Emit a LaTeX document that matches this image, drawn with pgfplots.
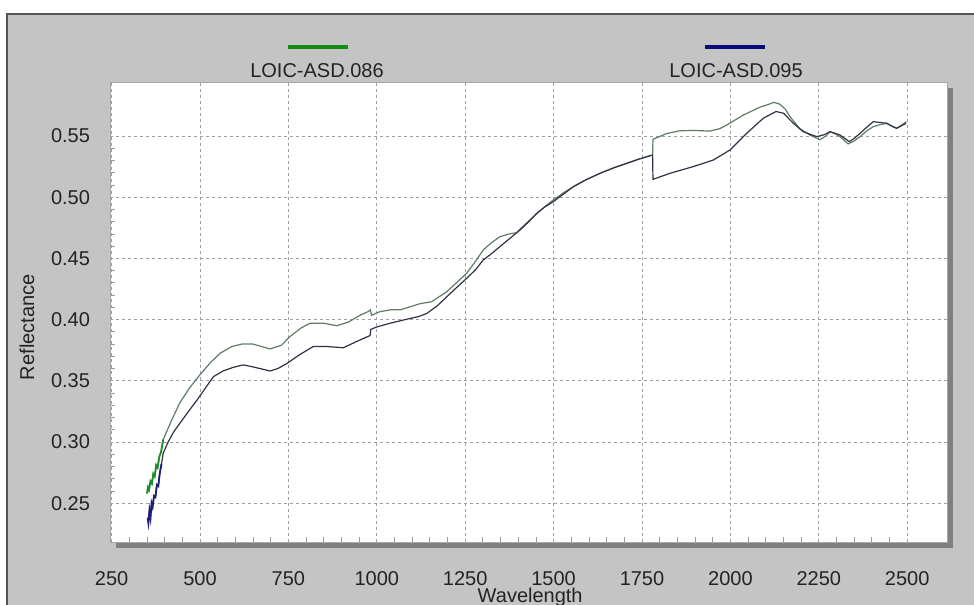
\documentclass[border=0pt]{standalone}
\usepackage{fontspec}
\setmainfont{Liberation Sans}
\usepackage{pgfplots}
\pgfplotsset{compat=1.18}
\definecolor{bggray}{RGB}{196,196,196}
\definecolor{framegray}{RGB}{85,85,85}
\definecolor{shadowgray}{RGB}{128,128,128}
\definecolor{legendgreen}{RGB}{20,140,20}
\definecolor{legendblue}{RGB}{10,10,120}
\definecolor{lineA}{RGB}{95,125,100}
\definecolor{lineB}{RGB}{50,50,70}
\definecolor{vividA}{RGB}{30,140,40}
\definecolor{vividB}{RGB}{30,30,120}
\definecolor{txt}{RGB}{35,35,35}
\begin{document}
\begin{tikzpicture}[x=1bp,y=1bp]
\path[use as bounding box] (0,0) rectangle (487,-302);
\fill[white] (0,0) rectangle (487,-302);
\fill[bggray] (3.5,-7) rectangle (492,-306);
\draw[framegray, line width=0.8bp] (3.5,-306) -- (3.5,-7) -- (492,-7);
\fill[shadowgray] (58,-44) rectangle (476.5,-274);
\draw[legendgreen, line width=2bp] (144,-23.5) -- (174,-23.5);
\node[txt, font=\fontsize{10bp}{12bp}\selectfont] at (158.5,-35.5) {LOIC-ASD.086};
\draw[legendblue, line width=2bp] (352.5,-23.5) -- (382.5,-23.5);
\node[txt, font=\fontsize{10bp}{12bp}\selectfont] at (368,-35.5) {LOIC-ASD.095};
\begin{axis}[
  at={(55bp,-271bp)}, anchor=south west,
  scale only axis, width=418.5bp, height=230bp,
  xmin=245.5, xmax=2612.6, ymin=0.2183, ymax=0.5941,
  xtick={250,500,...,2500},
  ytick={0.25,0.30,...,0.55},
  minor x tick num=4, minor y tick num=4,
  tick pos=left, tick align=inside,
  major tick length=0bp, minor tick length=2.5bp,
  minor tick style={gray!80, line width=0.4bp},
  grid=major,
  major grid style={gray!75, dash pattern=on 1.5bp off 1.5bp, line width=0.45bp},
  axis background/.style={fill=white},
  axis line style={gray!70, line width=0.5bp},
  every tick label/.append style={txt, font=\fontsize{10bp}{12bp}\selectfont},
  xticklabel style={yshift=-11bp, /pgf/number format/1000 sep={}},
  yticklabel style={xshift=-6.5bp, /pgf/number format/.cd, fixed, fixed zerofill, precision=2},
  /pgf/number format/assume math mode=true,
  scaled ticks=false,
  xlabel={Wavelength}, ylabel={Reflectance},
  every axis label/.append style={txt, font=\fontsize{10bp}{12bp}\selectfont},
  xlabel style={at={(axis description cs:0.502,-0.1196)}, anchor=center},
  ylabel style={at={(axis description cs:-0.0992,0.467)}, anchor=center, rotate=0},
]
% LOIC-ASD.086
\addplot[lineA, line width=0.6bp] table {
x y
350 0.258
353 0.263
356 0.261
360 0.268
364 0.266
368 0.274
372 0.272
376 0.281
380 0.279
385 0.288
390 0.292
396 0.302
405 0.308
420 0.318
443 0.332
470 0.344
500 0.355
530 0.365
557 0.3725
590 0.378
618 0.380
650 0.380
698 0.376
730 0.379
754 0.386
785 0.393
811 0.397
850 0.397
887 0.395
920 0.398
952 0.4035
975 0.4065
982 0.408
985 0.4035
1009 0.4065
1040 0.408
1066 0.408
1100 0.411
1122 0.413
1155 0.4146
1198 0.4228
1225 0.430
1254 0.4378
1280 0.448
1301 0.4569
1325 0.463
1348 0.4677
1375 0.470
1395 0.471
1420 0.478
1443 0.484
1470 0.491
1499 0.4977
1530 0.504
1556 0.5086
1590 0.514
1631 0.5195
1670 0.524
1707 0.5277
1740 0.531
1780 0.5345
1781 0.5473
1820 0.552
1857 0.5543
1900 0.5545
1942 0.554
1970 0.556
1990 0.559
2036 0.567
2083 0.5735
2110 0.576
2123 0.5775
2140 0.576
2155 0.572
2168 0.566
2196 0.556
2225 0.5508
2253 0.547
2270 0.550
2282 0.5535
2295 0.552
2310 0.5495
2333 0.5435
2350 0.546
2367 0.5495
2385 0.554
2404 0.5576
2420 0.559
2442 0.5604
2455 0.558
2470 0.5563
2485 0.559
2497 0.5617
};
% LOIC-ASD.095
\addplot[lineB, line width=0.6bp] table {
x y
352 0.238
354 0.234
357 0.244
360 0.238
363 0.250
366 0.247
370 0.256
374 0.255
378 0.265
382 0.264
386 0.274
391 0.282
396 0.291
410 0.300
425 0.308
443 0.3153
470 0.326
491 0.334
515 0.344
538 0.3534
565 0.358
594 0.361
622 0.363
640 0.362
670 0.360
698 0.358
720 0.360
745 0.364
780 0.371
820 0.378
860 0.378
905 0.377
952 0.3833
981 0.387
983 0.392
1000 0.394
1037 0.397
1080 0.400
1117 0.4024
1141 0.405
1170 0.411
1198 0.4187
1225 0.426
1254 0.4337
1280 0.441
1301 0.4487
1325 0.454
1348 0.4596
1375 0.466
1405 0.4732
1430 0.480
1452 0.4868
1475 0.492
1499 0.4963
1530 0.503
1556 0.5086
1590 0.514
1631 0.5195
1670 0.524
1707 0.5277
1740 0.531
1780 0.5345
1781 0.5146
1829 0.5195
1895 0.525
1952 0.5304
1999 0.5386
2046 0.5522
2093 0.5645
2129 0.570
2150 0.5686
2178 0.5604
2206 0.5535
2244 0.5495
2265 0.551
2282 0.5535
2310 0.5508
2336 0.5454
2350 0.548
2367 0.5522
2385 0.557
2404 0.5617
2442 0.5604
2470 0.5563
2497 0.5604
};
% vivid starts
\addplot[vividA, line width=0.9bp] table {
x y
350 0.258
353 0.263
356 0.261
360 0.268
364 0.266
368 0.274
372 0.272
376 0.281
380 0.279
385 0.288
390 0.292
396 0.302
};
\addplot[vividB, line width=0.9bp] table {
x y
352 0.238
354 0.234
357 0.244
360 0.238
363 0.250
366 0.247
370 0.256
374 0.255
378 0.265
382 0.264
386 0.274
391 0.282
};
\end{axis}
\end{tikzpicture}
\end{document}
